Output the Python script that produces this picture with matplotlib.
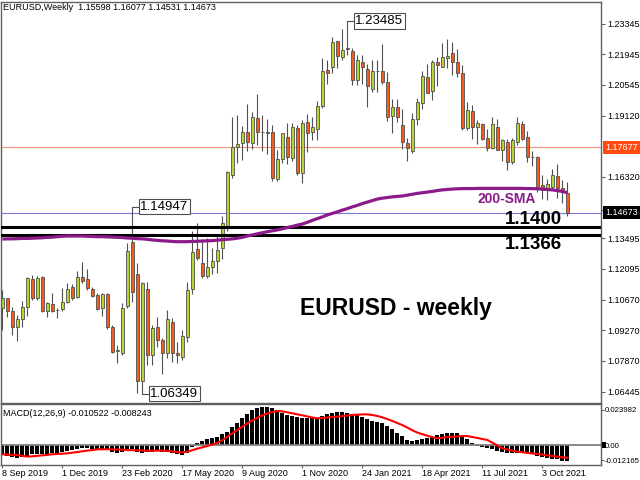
import numpy as np
import matplotlib.pyplot as plt
from matplotlib.patches import Rectangle
import matplotlib.transforms as mtransforms

# ---------------------------
# weekly EURUSD candles, week of 8 Sep 2019 .. 7 Nov 2021
# ---------------------------
opens = [1.1027, 1.1073, 1.1017, 1.0940, 1.0978, 1.1032, 1.1161, 1.1077, 1.1170, 1.1017,
         1.1048, 1.1020, 1.1023, 1.1058, 1.1127, 1.1080, 1.1170, 1.1162, 1.1118, 1.1089,
         1.1028, 1.1094, 1.0940, 1.0830, 1.0824, 1.1038, 1.1334, 1.1184, 1.0695, 1.1116,
         1.0813, 1.0941, 1.0880, 1.0822, 1.0965, 1.0822, 1.0805, 1.0896, 1.1117, 1.1300,
         1.1236, 1.1176, 1.1218, 1.1245, 1.1305, 1.1402, 1.1641, 1.1769, 1.1788, 1.1838,
         1.1788, 1.1902, 1.1838, 1.1840, 1.1838, 1.1622, 1.1715, 1.1815, 1.1717, 1.1856,
         1.1650, 1.1884, 1.1838, 1.1852, 1.1958, 1.2123, 1.2137, 1.2255, 1.2183, 1.2224,
         1.2211, 1.2077, 1.2160, 1.2128, 1.2034, 1.2120, 1.2118, 1.2068, 1.1912, 1.1953,
         1.1870, 1.1788, 1.1751, 1.1898, 1.1972, 1.2091, 1.2027, 1.2160, 1.2137, 1.2178,
         1.2201, 1.2160, 1.2109, 1.1857, 1.1935, 1.1862, 1.1876, 1.1810, 1.1765, 1.1861,
         1.1756, 1.1792, 1.1700, 1.1792, 1.1876, 1.1815, 1.1722, 1.1723, 1.1595, 1.1581,
         1.1585, 1.1636, 1.1581, 1.15598]
highs = [1.1110, 1.1076, 1.1033, 1.0998, 1.1063, 1.1173, 1.1179, 1.1176, 1.1176, 1.1058,
         1.1097, 1.1028, 1.1120, 1.1143, 1.1138, 1.1199, 1.1242, 1.1207, 1.1127, 1.1097,
         1.1100, 1.1100, 1.0950, 1.0859, 1.1053, 1.1326, 1.14947, 1.1234, 1.1150, 1.1147,
         1.0952, 1.0990, 1.0890, 1.1019, 1.0981, 1.0874, 1.0928, 1.1147, 1.1384, 1.1422,
         1.1348, 1.1349, 1.1303, 1.1371, 1.1452, 1.1660, 1.1909, 1.1916, 1.1866, 1.1966,
         1.1930, 1.2011, 1.1917, 1.1900, 1.1872, 1.1754, 1.1831, 1.1880, 1.1881, 1.1870,
         1.1891, 1.1920, 1.1905, 1.1980, 1.2177, 1.2167, 1.2273, 1.2256, 1.2310, 1.23485,
         1.2222, 1.2190, 1.2190, 1.2150, 1.2170, 1.2169, 1.2243, 1.2113, 1.1990, 1.1990,
         1.1945, 1.1810, 1.1927, 1.1995, 1.2117, 1.2150, 1.2170, 1.2183, 1.2245, 1.2266,
         1.2254, 1.2218, 1.2145, 1.1975, 1.1960, 1.1895, 1.1880, 1.1850, 1.1909, 1.1900,
         1.1807, 1.1805, 1.1810, 1.1909, 1.1887, 1.1845, 1.1752, 1.1730, 1.1640, 1.1624,
         1.1669, 1.1692, 1.1616, 1.16077]
lows = [1.0927, 1.0990, 1.0903, 1.0879, 1.0941, 1.0991, 1.1066, 1.1066, 1.1012, 1.0989,
        1.1012, 1.0982, 1.1017, 1.1051, 1.1066, 1.1074, 1.1146, 1.1112, 1.1081, 1.1020,
        1.0992, 1.0935, 1.0822, 1.0778, 1.0813, 1.1030, 1.1055, 1.0637, 1.06349, 1.0768,
        1.0768, 1.0851, 1.0727, 1.0800, 1.0782, 1.0775, 1.0790, 1.0871, 1.1095, 1.1250,
        1.1168, 1.1168, 1.1187, 1.1190, 1.1255, 1.1385, 1.1625, 1.1696, 1.1711, 1.1753,
        1.1760, 1.1780, 1.1752, 1.1737, 1.1612, 1.1612, 1.1695, 1.1689, 1.1703, 1.1640,
        1.1603, 1.1745, 1.1800, 1.1800, 1.1950, 1.2058, 1.2110, 1.2132, 1.2170, 1.2190,
        1.2054, 1.2054, 1.2058, 1.1952, 1.2020, 1.2023, 1.2060, 1.1890, 1.1835, 1.1883,
        1.1762, 1.1704, 1.1740, 1.1870, 1.1945, 1.2017, 1.1986, 1.2051, 1.2135, 1.2134,
        1.2100, 1.2093, 1.1848, 1.1847, 1.1807, 1.1782, 1.1800, 1.1752, 1.1760, 1.1754,
        1.1706, 1.1664, 1.1690, 1.1780, 1.1800, 1.1700, 1.1684, 1.1563, 1.1529, 1.1524,
        1.1572, 1.1535, 1.1513, 1.14531]
closes = [1.1073, 1.1017, 1.0940, 1.0978, 1.1032, 1.1169, 1.1077, 1.1166, 1.1017, 1.1051,
          1.1017, 1.1019, 1.1058, 1.1117, 1.1074, 1.1173, 1.1155, 1.1120, 1.1086, 1.1025,
          1.1094, 1.0940, 1.0829, 1.0838, 1.1028, 1.1291, 1.1101, 1.0695, 1.1144, 1.0813,
          1.0937, 1.0880, 1.0822, 1.0978, 1.0822, 1.0812, 1.0900, 1.1112, 1.1287, 1.1260,
          1.1176, 1.1218, 1.1245, 1.1296, 1.1420, 1.1654, 1.1769, 1.1783, 1.1838, 1.1792,
          1.1907, 1.1838, 1.1840, 1.1835, 1.1627, 1.1715, 1.1834, 1.1722, 1.1861, 1.1650,
          1.1880, 1.1833, 1.1861, 1.1958, 1.2118, 1.2109, 1.2252, 1.2188, 1.2215, 1.2220,
          1.2077, 1.2169, 1.2137, 1.2050, 1.2120, 1.2118, 1.2068, 1.1907, 1.1953, 1.1907,
          1.1792, 1.1765, 1.1898, 1.1976, 1.2096, 1.2017, 1.2160, 1.2145, 1.2183, 1.2187,
          1.2160, 1.2109, 1.1857, 1.1940, 1.1862, 1.1880, 1.1806, 1.1765, 1.1876, 1.1756,
          1.1801, 1.1700, 1.1801, 1.1880, 1.1806, 1.1722, 1.1723, 1.1585, 1.1572, 1.1600,
          1.1641, 1.1581, 1.1563, 1.14673]

# 200-week SMA
sma200 = [1.1346, 1.1347, 1.1347, 1.1348, 1.1349, 1.1349, 1.1350, 1.1351, 1.1352, 1.1354,
          1.1355, 1.1357, 1.1359, 1.1360, 1.1360, 1.1360, 1.1360, 1.1359, 1.1358, 1.1357,
          1.1357, 1.1356, 1.1355, 1.1354, 1.1353, 1.1351, 1.1350, 1.1348, 1.1347, 1.1345,
          1.1342, 1.1340, 1.1338, 1.1337, 1.1335, 1.1334, 1.1334, 1.1334, 1.1335, 1.1336,
          1.1337, 1.1338, 1.1339, 1.1341, 1.1343, 1.1345, 1.1347, 1.1350, 1.1354, 1.1360,
          1.1365, 1.1370, 1.1375, 1.1380, 1.1384, 1.1388, 1.1393, 1.1399, 1.1404, 1.1410,
          1.1415, 1.1423, 1.1432, 1.1440, 1.1448, 1.1457, 1.1464, 1.1471, 1.1479, 1.1486,
          1.1494, 1.1501, 1.1509, 1.1516, 1.1523, 1.1530, 1.1534, 1.1537, 1.1540, 1.1542,
          1.1544, 1.1548, 1.1552, 1.1556, 1.1559, 1.1562, 1.1565, 1.1569, 1.1572, 1.1574,
          1.1576, 1.1577, 1.1578, 1.1578, 1.1578, 1.1579, 1.1579, 1.1579, 1.1579, 1.1579,
          1.1579, 1.1579, 1.1579, 1.1579, 1.1579, 1.1578, 1.1578, 1.1577, 1.1576, 1.1574,
          1.1572, 1.1569, 1.1565, 1.1559]

# MACD(12,26,9) main (histogram) and signal, in units of 1e-3
macd_main = [-6.4, -7.0, -7.9, -8.5, -7.9, -7.0, -5.9, -5.7, -5.9, -5.7,
             -5.3, -4.9, -4.2, -3.6, -3.2, -2.5, -2.1, -2.1, -2.3, -2.8,
             -2.8, -3.2, -4.2, -5.3, -4.7, -3.2, -2.8, -4.2, -4.9, -4.7,
             -4.2, -4.0, -4.7, -4.5, -4.9, -5.7, -6.4, -4.9, -1.1, 1.5,
             2.8, 3.6, 4.2, 5.3, 6.8, 8.5, 11.2, 13.8, 17.0, 19.7,
             22.3, 23.3, 24.0, 24.0, 23.3, 22.3, 20.6, 19.1, 18.5, 17.6,
             17.0, 17.0, 17.0, 17.0, 18.5, 19.7, 20.6, 20.8, 20.8, 20.6,
             19.7, 19.1, 18.0, 16.6, 15.5, 14.9, 13.8, 12.1, 10.0, 7.9,
             5.7, 3.2, 2.5, 3.2, 3.6, 4.2, 5.3, 6.4, 7.0, 7.4,
             7.9, 7.4, 5.7, 3.6, 1.5, -0.4, -1.1, -2.1, -2.8, -3.6,
             -4.7, -5.3, -5.3, -4.9, -4.9, -5.3, -5.9, -7.0, -7.9, -8.5,
             -9.1, -9.1, -10.0, -10.5]
macd_signal = [-5.9, -6.1, -6.3, -6.4, -6.9, -7.4, -7.2, -6.9, -6.6, -6.3,
               -5.9, -5.7, -5.5, -5.3, -4.9, -4.5, -4.0, -3.6, -3.2, -2.8,
               -2.7, -2.7, -2.8, -2.9, -3.0, -3.2, -3.3, -3.4, -3.5, -3.6,
               -3.6, -3.6, -3.6, -3.7, -4.1, -4.6, -4.7, -4.3, -3.3, -2.3,
               -1.5, -0.6, 0.3, 1.3, 3.1, 5.2, 7.4, 9.5, 11.7, 13.8,
               15.6, 17.3, 18.9, 20.0, 21.0, 21.6, 21.4, 20.8, 20.2, 19.5,
               18.9, 18.2, 17.5, 17.0, 17.2, 17.5, 17.8, 18.0, 18.4, 18.8,
               19.1, 19.3, 19.5, 19.5, 19.1, 18.5, 17.6, 16.5, 15.3, 14.0,
               12.7, 11.1, 9.4, 7.9, 6.9, 5.9, 5.0, 4.2, 4.6, 5.0,
               5.3, 5.5, 5.7, 5.7, 5.1, 4.5, 3.8, 3.2, 1.5, -0.3,
               -2.1, -2.9, -3.6, -4.2, -4.6, -5.0, -5.4, -5.7, -6.1, -6.6,
               -7.0, -7.4, -7.8, -8.2]

date_pos = [0, 12, 24, 36, 48, 60, 72, 84, 96, 108]
date_labels = ['8 Sep 2019', '1 Dec 2019', '23 Feb 2020', '17 May 2020', '9 Aug 2020',
               '1 Nov 2020', '24 Jan 2021', '18 Apr 2021', '11 Jul 2021', '3 Oct 2021']
price_ticks = [1.23345, 1.21945, 1.20545, 1.19120, 1.16320, 1.14805,
               1.13495, 1.12095, 1.10670, 1.09270, 1.07870, 1.06445]

level_lines = [1.1400, 1.1366]
line_orange = 1.17677
bid_price = 1.14673

BULL = '#b8d434'
BEAR = '#f25c1e'
EDGE = '#505050'
FRAME = '#606060'
PURPLE = '#8b1a8b'
SMALL = 'Liberation Sans'

# =====================
# figure / axes
# =====================
fig = plt.figure(figsize=(6.4, 4.8), dpi=100)
ax = fig.add_axes([1/640, 77/480, 600/640, 401/480])
axm = fig.add_axes([1/640, 15/480, 600/640, 61/480])

o = np.array(opens); h = np.array(highs); l = np.array(lows); c = np.array(closes)
x = np.arange(len(o))
up = c >= o

# candles
ax.vlines(x, l, h, color=EDGE, linewidth=0.8, zorder=2)
body_bot = np.minimum(o, c)
body_h = np.maximum(np.abs(c - o), 0.00004)
ax.bar(x, body_h, bottom=body_bot, width=0.62,
       color=np.where(up, BULL, BEAR), edgecolor=EDGE, linewidth=0.6, zorder=2.1)

# lines
ax.axhline(line_orange, color='#f39476', linewidth=0.8, zorder=1.5)
ax.axhline(bid_price, color='#7878dc', linewidth=0.8, zorder=1.5)
for lv in level_lines:
    ax.axhline(lv, color='black', linewidth=2.2, zorder=3)
ax.plot(x, sma200, color=PURPLE, linewidth=2.3, zorder=3.2, solid_capstyle='butt')

# price callouts at extremes
def callout(k, price):
    ax.plot([k, k + 1.34], [price, price], color=EDGE, linewidth=0.8, zorder=3.5)
    ax.text(k + 1.62, price, '%.5f' % price, ha='left', va='center',
            fontsize=9.5, family='Liberation Sans', color='black', zorder=4,
            bbox=dict(boxstyle='square,pad=0.12', fc='white', ec='#505050', lw=0.8))

k_hi1 = int(np.argmax(h[:40]))
k_lo = int(np.argmin(l))
k_hi2 = int(np.argmax(h))
callout(k_hi1, h[k_hi1])
callout(k_lo, l[k_lo])
callout(k_hi2, h[k_hi2])

# text objects
bold = dict(family='Liberation Sans', fontweight='bold')
ax.text(100.5, 1.1434, '1.1400', ha='left', va='center', fontsize=13.5, color='black', zorder=5, **bold)
ax.text(100.5, 1.1319, '1.1366', ha='left', va='center', fontsize=13.5, color='black', zorder=5, **bold)
ax.text(95.1, 1.1530, '200-SMA', ha='left', va='center', fontsize=10, color=PURPLE, zorder=5, **bold)
ax.text(59.5, 1.1025, 'EURUSD - weekly', ha='left', va='center', fontsize=16.5, color='black', zorder=5, **bold)

ax.set_xlim(-0.26, 119.74)
ax.set_ylim(1.05926, 1.24356)
ax.set_xticks([])
ax.yaxis.tick_right()
ax.set_yticks(price_ticks)
ax.set_yticklabels(['%.5f' % p for p in price_ticks], family=SMALL)
ax.tick_params(axis='y', labelsize=6.5, length=3, width=0.8, color=FRAME, pad=1.5)

# right-hand price boxes
trans = mtransforms.blended_transform_factory(ax.transAxes, ax.transData)
ax.text(1.0 + 4/600, line_orange, '%.5f' % line_orange, transform=trans, ha='left', va='center',
        fontsize=6.5, family=SMALL, color='white', clip_on=False, zorder=6,
        bbox=dict(boxstyle='square,pad=0.25', fc='#ff4a10', ec='none'))
ax.text(1.0 + 4/600, bid_price, '%.5f' % bid_price, transform=trans, ha='left', va='center',
        fontsize=6.5, family=SMALL, color='white', clip_on=False, zorder=6,
        bbox=dict(boxstyle='square,pad=0.25', fc='black', ec='none'))

fig.text(3/640, 1 - 7/480, 'EURUSD,Weekly  %.5f %.5f %.5f %.5f' % (o[-1], h[-1], l[-1], c[-1]),
         ha='left', va='center', fontsize=6.5, family=SMALL, color='black')

# =====================
# MACD window
# =====================
axm.bar(x, macd_main, width=0.8, color='black', linewidth=0, zorder=2)
axm.axhline(0, color='#808080', linewidth=1.3, zorder=2.5)
axm.plot(x, macd_signal, color='#ff0000', linewidth=1.5, zorder=3)
axm.set_xlim(-0.26, 119.74)
axm.set_ylim(-12.73, 26.1)
axm.yaxis.tick_right()
axm.set_yticks([22.3, 0, -9.7])
axm.set_yticklabels(['0.023982', '0.00', '-0.012165'], family=SMALL)
axm.tick_params(axis='y', labelsize=5.6, length=2, width=0.8, color=FRAME, pad=0.6)
axm.set_xticks(np.array(date_pos) - 0.15)
axm.set_xticklabels(date_labels, ha='left', family=SMALL)
axm.tick_params(axis='x', labelsize=6.5, length=2, width=0.8, color=FRAME, pad=1)
axm.text(2/600, 0.84, 'MACD(12,26,9) %.6f %.6f' % (macd_main[-1] * 1e-3 - 0.000022, macd_signal[-1] * 1e-3 - 0.000043),
         transform=axm.transAxes, ha='left', va='center', fontsize=6.5, family=SMALL, color='black')
fig.patches.append(Rectangle((601.5/640, 32/480), 4.5/640, 6.5/480, transform=fig.transFigure,
                             facecolor='black', edgecolor='none', zorder=10))

for a in (ax, axm):
    for s in a.spines.values():
        s.set_color(FRAME)
        s.set_linewidth(1.0)

fig.savefig('out.png', dpi=100)
